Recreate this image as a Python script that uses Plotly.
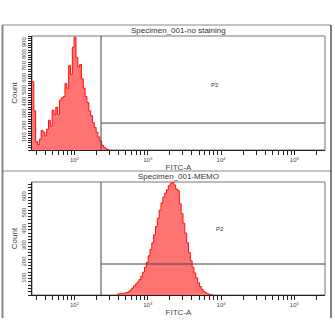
import math
import plotly.graph_objects as go

# ---- data -------------------------------------------------------------
# Histogram counts on a log10 grid (bin width in decades)
bin_width = 0.025

# Specimen_001-no staining
unstained_start = 1.42
unstained_counts = [575, 330, 70, 45, 90, 165, 150, 120, 175, 250,
                    200, 335, 300, 360, 300, 420, 440, 450, 560, 520,
                    710, 640, 865, 950, 780, 700, 720, 600, 520, 450,
                    400, 330, 290, 230, 190, 150, 110, 75, 40, 22,
                    10, 4]

# Specimen_001-MEMO
memo_start = 2.58
memo_counts = [5, 8, 10, 8, 12, 15, 20, 30, 42, 55,
               68, 80, 95, 115, 140, 170, 200, 240, 280, 320,
               370, 420, 470, 520, 565, 600, 625, 645, 670, 685,
               693, 675, 650, 640, 560, 500, 440, 380, 320, 260,
               210, 170, 135, 105, 75, 52, 35, 22, 14, 8,
               4, 2]

titles = ["Specimen_001-no staining", "Specimen_001-MEMO"]
gate_name = "P2"
gate_low = 230            # FITC-A lower bound of P2
gate_levels = [227, 190]  # display height of the P2 bar in each panel
gate_label_pos = [(8300, 545), (9650, 405)]
x_range_log = [1.42, 5.418]
y_max = [960, 693]
count_ticks = [[100, 200, 300, 400, 500, 600, 700, 800, 900],
               [100, 200, 300, 400, 500, 600]]
decades = [100, 1000, 10000, 100000]
decade_labels = ["10<sup>2</sup>", "10<sup>3</sup>", "10<sup>4</sup>", "10<sup>5</sup>"]

# ---- figure -----------------------------------------------------------
W = H = 335
FONT = "Liberation Sans, Arial, sans-serif"


def px(x):
    return x / W


def py(y):
    return 1 - y / H


def step_xy(start, counts):
    edges = [10 ** (start + i * bin_width) for i in range(len(counts) + 1)]
    return edges, counts + [0]


fig = go.Figure()

panels = [
    dict(start=unstained_start, counts=unstained_counts, dom=(150, 36)),
    dict(start=memo_start, counts=memo_counts, dom=(295, 182)),
]

for k, p in enumerate(panels):
    xa = "x" if k == 0 else "x2"
    ya = "y" if k == 0 else "y2"
    xs, ys = step_xy(p["start"], p["counts"])
    fig.add_trace(go.Scatter(
        x=xs, y=ys, mode="lines", line=dict(color="#ff1010", width=1, shape="hv"),
        fill="tozeroy", fillcolor="rgb(255,115,115)", xaxis=xa, yaxis=ya,
        hoverinfo="skip", showlegend=False))

    ydom = [py(p["dom"][0]), py(p["dom"][1])]
    axname = "" if k == 0 else "2"
    fig.layout["xaxis" + axname] = dict(
        type="log", range=x_range_log, domain=[px(32), px(325)], anchor=ya,
        showgrid=False, zeroline=False, showline=True, linecolor="#222", linewidth=1,
        ticks="outside", ticklen=4, tickcolor="#222", tickwidth=1,
        tickvals=decades, ticktext=decade_labels,
        minor=dict(ticks="outside", ticklen=4, tickcolor="#222", tickwidth=1,
                   dtick="D1", showgrid=False),
        tickfont=dict(family=FONT, size=6, color="#444"),
        title=dict(text="FITC-A", font=dict(family=FONT, size=8, color="#444"), standoff=2),
    )
    fig.layout["yaxis" + axname] = dict(
        range=[0, y_max[k]], domain=ydom, anchor=xa,
        showgrid=False, zeroline=False, showline=True, linecolor="#222", linewidth=1,
        ticks="outside", ticklen=3, tickcolor="#222", tickwidth=1,
        tickvals=count_ticks[k], tickangle=-90,
        minor=dict(ticks="outside", ticklen=3, tickcolor="#222", tickwidth=1,
                   tick0=0, dtick=20, showgrid=False),
        tickfont=dict(family=FONT, size=6, color="#444"),
        title=dict(text="Count", font=dict(family=FONT, size=8, color="#444"), standoff=1),
    )

    # gray plot box (top and right edges)
    fig.add_shape(type="rect", xref="paper", yref="paper",
                  x0=px(32), x1=px(325), y0=ydom[0], y1=ydom[1],
                  line=dict(color="#777", width=1), layer="below")

    # P2 interval gate
    fig.add_shape(type="line", xref=xa, yref=ya + " domain",
                  x0=gate_low, x1=gate_low, y0=0, y1=1,
                  line=dict(color="#444", width=1))
    fig.add_shape(type="line", xref=xa, yref=ya,
                  x0=gate_low, x1=10 ** x_range_log[1], y0=gate_levels[k], y1=gate_levels[k],
                  line=dict(color="#444", width=1))
    gx, gy = gate_label_pos[k]
    fig.add_annotation(x=math.log10(gx), y=gy, xref=xa, yref=ya, text=gate_name,
                       showarrow=False, font=dict(family=FONT, size=6, color="#333"))

    # panel title
    fig.add_annotation(x=(px(32) + px(325)) / 2, y=ydom[1], xref="paper", yref="paper",
                       text=titles[k], showarrow=False, yanchor="bottom", yshift=-1,
                       font=dict(family=FONT, size=8, color="#333"))

# outer frame
frame = dict(xref="paper", yref="paper")
fig.add_shape(type="line", x0=px(2), x1=px(331), y0=py(25), y1=py(25),
              line=dict(color="#888", width=1), **frame)
fig.add_shape(type="line", x0=px(2), x1=px(331), y0=py(171), y1=py(171),
              line=dict(color="#888", width=1), **frame)
fig.add_shape(type="line", x0=px(2.5), x1=px(2.5), y0=py(25), y1=py(318),
              line=dict(color="#888", width=2), **frame)
fig.add_shape(type="line", x0=px(331), x1=px(331), y0=py(25), y1=py(318),
              line=dict(color="#000", width=1), **frame)

fig.update_layout(
    width=W, height=H, margin=dict(l=0, r=0, t=0, b=0),
    paper_bgcolor="white", plot_bgcolor="white",
    font=dict(family=FONT, size=7, color="#333"),
    showlegend=False,
)

fig.write_html("out.html")
